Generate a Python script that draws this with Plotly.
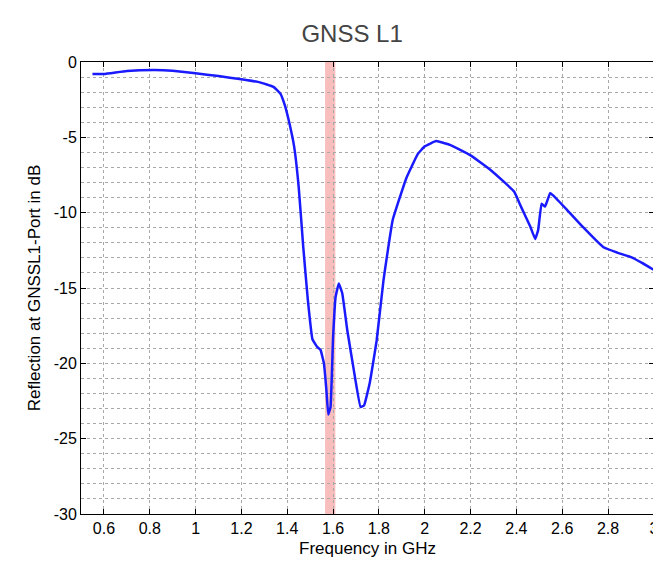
import plotly.graph_objects as go

# Reflection curve
freq_ghz = [0.55, 0.60, 0.70, 0.82, 0.90, 1.00, 1.10, 1.20, 1.28, 1.34, 1.37, 1.39,
            1.41, 1.43, 1.45, 1.47, 1.49, 1.51, 1.53, 1.545, 1.56, 1.571, 1.579,
            1.589, 1.60, 1.611, 1.625, 1.64, 1.662, 1.69, 1.72, 1.735, 1.76, 1.79,
            1.82, 1.86, 1.92, 1.97, 2.00, 2.05, 2.11, 2.20, 2.29, 2.39, 2.42, 2.46,
            2.482, 2.495, 2.51, 2.525, 2.547, 2.56, 2.62, 2.69, 2.78, 2.84, 2.90,
            2.95, 3.00]
refl_db = [-0.80, -0.80, -0.60, -0.53, -0.58, -0.75, -0.93, -1.15, -1.35, -1.65, -2.1,
           -2.9, -4.1, -5.6, -8.3, -12.3, -15.8, -18.4, -18.9, -19.1, -20.0, -21.8,
           -23.4, -22.9, -18.3, -15.6, -14.7, -15.35, -17.8, -20.4, -22.9, -22.8,
           -21.3, -18.5, -14.5, -10.5, -7.7, -6.1, -5.6, -5.25, -5.5, -6.2, -7.2,
           -8.6, -9.6, -10.9, -11.75, -11.15, -9.4, -9.6, -8.7, -8.85, -9.8, -10.95,
           -12.3, -12.65, -12.95, -13.35, -13.8]

# GNSS L1 band marker
band = [1.565, 1.61]

x_ticks = [0.6, 0.8, 1.0, 1.2, 1.4, 1.6, 1.8, 2.0, 2.2, 2.4, 2.6, 2.8, 3.0]
x_labels = ["0.6", "0.8", "1", "1.2", "1.4", "1.6", "1.8", "2", "2.2", "2.4", "2.6", "2.8", "3"]
y_ticks = [0, -5, -10, -15, -20, -25, -30]
y_labels = ["0", "-5", "-10", "-15", "-20", "-25", "-30"]

fig = go.Figure()

fig.add_vrect(x0=band[0], x1=band[1], fillcolor="rgba(240,110,110,0.45)",
              line_width=0, layer="below")

fig.add_trace(go.Scatter(
    x=freq_ghz, y=refl_db,
    mode="lines",
    line=dict(color="#1a1aff", width=2.5, shape="spline", smoothing=0.3),
    showlegend=False,
))

font = "Liberation Sans, Arial, sans-serif"
grid = dict(showgrid=True, gridcolor="#a8a8a8", griddash="dot", gridwidth=1)

# page body has an 8px default margin, so the figure is 8px smaller than the window
fig.update_layout(
    width=653, height=558,
    paper_bgcolor="white", plot_bgcolor="white",
    margin=dict(l=73, r=7, t=54, b=52),
    title=dict(text="GNSS L1", x=0.527, xanchor="center", y=0.955, yanchor="middle",
               font=dict(family=font, size=24, color="#444444")),
    font=dict(family=font, color="black"),
)

fig.update_xaxes(
    range=[0.5, 3.0005], tickvals=x_ticks, ticktext=x_labels,
    tickfont=dict(size=16), ticks="inside", ticklen=5, tickcolor="black",
    showline=True, linecolor="black", linewidth=1, mirror="ticks",
    title=dict(text="Frequency in GHz", font=dict(size=17), standoff=5),
    zeroline=False, automargin=False, **grid,
)
fig.update_yaxes(
    range=[-30, 0], tickvals=y_ticks, ticktext=y_labels, tickfont=dict(size=16),
    ticks="inside", ticklen=5, tickcolor="black",
    showline=True, linecolor="black", linewidth=1, mirror="ticks",
    title=dict(text="Reflection at GNSSL1-Port in dB", font=dict(size=17), standoff=8),
    zeroline=False, automargin=False,
    minor=dict(dtick=1, showgrid=True, gridcolor="#a8a8a8", griddash="dot", gridwidth=1),
    **grid,
)

fig.write_html("out.html")
